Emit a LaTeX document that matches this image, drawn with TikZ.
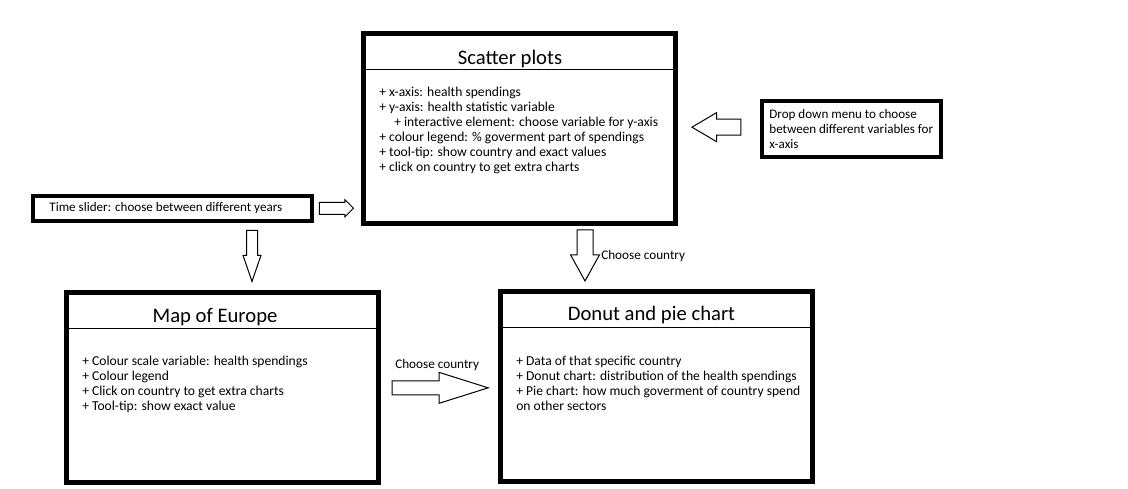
\documentclass[tikz,border=0pt]{standalone}
\usepackage{fontspec}
\setmainfont{Carlito}
\usetikzlibrary{positioning, shapes.arrows, calc}

\begin{document}
\begin{tikzpicture}[x=0.75pt, y=-0.75pt,
        panel/.style={draw, line width=3.75pt, outer sep=0pt, minimum width=234pt, minimum height=142.5pt},
        note/.style={draw, line width=3pt, outer sep=0pt, inner sep=0pt, align=left, font=\fontsize{9.8}{11.25}\selectfont},
        heading/.style={font=\fontsize{15.5}{18}\selectfont},
        items/.style={align=left, anchor=north west, inner sep=0pt, font=\fontsize{10.2}{11.25}\selectfont},
        caption/.style={anchor=west, inner sep=0pt, font=\fontsize{9.9}{11.25}\selectfont},
        hollow/.style={single arrow, draw, line width=0.75pt, inner sep=0pt, anchor=tip}]
    \useasboundingbox [fill=white] (0,0) rectangle (1128,489);

    % the three views
    \node [panel] (scatter) at (519.5,128.5) {};
    \node [panel] (map) at (222.75,387.5) {};
    \node [panel] (donut) at (656.5,386.5) {};
    \foreach \p in {scatter, map, donut}
        \draw [line width=1pt] ([yshift=-27pt]\p.north west) -- ([yshift=-27pt]\p.north east);

    \node [heading] (scattertitle) at (510,59) {Scatter plots};
    \node [heading] (maptitle) at (215,317) {Map of Europe};
    \node [heading] (donuttitle) at (651.5,315) {Donut and pie chart};

    \node [items] (scatteritems) at (379,87) {+ x-axis: health spendings\\+ y-axis: health statistic variable\\\hspace*{11.25pt}+ interactive element: choose variable for y-axis\\+ colour legend: \% goverment part of spendings\\+ tool-tip: show country and exact values\\+ click on country to get extra charts};
    \node [items] (mapitems) at (82,356) {+ Colour scale variable: health spendings\\+ Colour legend\\+ Click on country to get extra charts\\+ Tool-tip: show exact value};
    \node [items] (donutitems) at (516,356) {+ Data of that specific country\\+ Donut chart: distribution of the health spendings\\+ Pie chart: how much goverment of country spend\\on other sectors};

    % controls
    \node [note, minimum width=133.9pt, minimum height=42pt] (menu) at (851.25,129) {Drop down menu to choose\\between different variables for\\x-axis};
    \node [note, minimum width=209.25pt, minimum height=18.4pt] (slider) at (172.5,208.25) {Time slider: choose between different years\hspace*{10pt}};

    % block arrows, placed by their tips
    \node [hollow, minimum height=25.5pt, minimum width=12pt, inner sep=4.125pt, single arrow head extend=1.875pt, single arrow tip angle=90] (sliderarrow) at ([xshift=-7pt]scatter.west |- slider.east) {};
    \node [hollow, rotate=-90, minimum height=38.25pt, minimum width=12.75pt, inner sep=3.75pt, single arrow head extend=2.625pt, single arrow tip angle=38] (sliderdown) at (252,283) {};
    \node [hollow, rotate=180, minimum height=36.75pt, minimum width=21pt, inner sep=5.625pt, single arrow head extend=4.875pt, single arrow tip angle=61] (menuarrow) at ([xshift=11.6pt,yshift=1pt]scatter.east) {};
    \node [hollow, rotate=-90, minimum height=38.25pt, minimum width=21pt, inner sep=5.625pt, single arrow head extend=4.875pt, single arrow tip angle=58] (scatterdown) at (585,282) {};
    \node [hollow, minimum height=72pt, minimum width=22.5pt, inner sep=4.875pt, single arrow head extend=6.375pt, single arrow tip angle=35] (maparrow) at ([xshift=-8pt,yshift=-1pt]donut.west) {};

    \node [caption] (scatterlabel) at (601,256) {Choose country};
    \node [caption] (maplabel) at (395,365) {Choose country};
\end{tikzpicture}
\end{document}
